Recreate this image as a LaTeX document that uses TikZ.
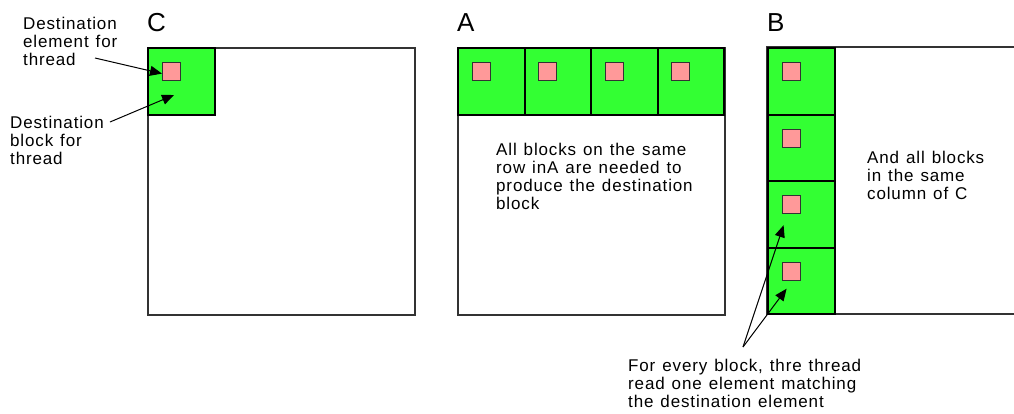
\documentclass[tikz,border=0pt]{standalone}
\usepackage{fontspec}
\setmainfont{Liberation Sans}[LetterSpace=5,WordSpace=1.25]
\newfontfamily\headfont{Liberation Sans}
\usetikzlibrary{arrows.meta,calc}
\definecolor{blockgreen}{HTML}{33FF33}
\definecolor{elempink}{HTML}{FF9999}
\definecolor{edgegray}{HTML}{333333}
\begin{document}
\begin{tikzpicture}[x=1pt,y=-1pt,
  matrixbox/.style={draw=edgegray,line width=1.6pt,fill=white,inner sep=0pt,
    minimum width=267pt,minimum height=267pt,anchor=north west},
  blockbox/.style={draw=black,line width=2pt,fill=blockgreen,inner sep=0pt,
    minimum width=66.5pt,minimum height=66.5pt,anchor=north west},
  elembox/.style={draw=edgegray,line width=1.2pt,fill=elempink,inner sep=0pt,
    minimum width=18pt,minimum height=18pt,anchor=north west},
  heading/.style={font=\headfont\fontsize{26}{28}\selectfont,inner sep=0pt,anchor=north west},
  note/.style={font=\fontsize{17}{18}\selectfont,align=left,inner sep=0pt,anchor=north west},
  pointer/.style={draw=black,line width=1pt,-{Triangle[length=12pt,width=10pt]}}]
\useasboundingbox (0,0) rectangle (1014,413);

% matrix C with the destination block
\node[matrixbox] (C) at (147,47) {};
\node[blockbox] (c1) at (147,47) {};
\node[elembox] (pc1) at (162,62) {};
\node[heading] (labC) at (147,13) {C};

% matrix A: one row of blocks
\node[matrixbox] (A) at (457,47) {};
\foreach \i in {1,...,4}{
  \node[blockbox] (a\i) at ({457+66.5*(\i-1)},47) {};
  \node[elembox] (pa\i) at ({471.5+66.5*(\i-1)},62) {};
}
\node[heading] (labA) at (457,13) {A};

% matrix B: one column of blocks, running off the right edge
\fill[white] (767,47) rectangle (1014,314);
\draw[edgegray,line width=1.6pt] (1015,47) -- (767,47) -- (767,314) -- (1015,314);
\coordinate (B) at (767,47);
\foreach \i in {1,...,4}{
  \node[blockbox] (b\i) at (767,{47+66.5*(\i-1)}) {};
  \node[elembox] (pb\i) at (782,{62+66.5*(\i-1)}) {};
}
\node[heading] (labB) at (767,13) {B};

% notes
\node[note] (nElem) at (23,17) {Destination\\element for\\thread};
\node[note] (nBlock) at (10,116) {Destination\\block for\\thread};
\node[note] (nRow) at (496,143) {All blocks on the same\\row inA are needed to\\produce the destination\\block};
\node[note] (nCol) at (867,151) {And all blocks\\in the same\\column of C};
\node[note] (nRead) at (628,359) {For every block, thre thread\\read one element matching\\the destination element};

% pointers
\coordinate (sElem) at (95,58);
\coordinate (sBlock) at (110,122);
\coordinate (tBlock) at (174,95);
\draw[pointer] (sElem) -- ($(pc1.west)+(0,2)$);
\draw[pointer] (sBlock) -- (tBlock);
\coordinate (sRead) at (743,347);
\draw[pointer] (sRead) -- ($(pb3.south)+(-8,11)$);
\draw[pointer] (sRead) -- ($(pb4.south)+(-5,8)$);
\end{tikzpicture}
\end{document}
